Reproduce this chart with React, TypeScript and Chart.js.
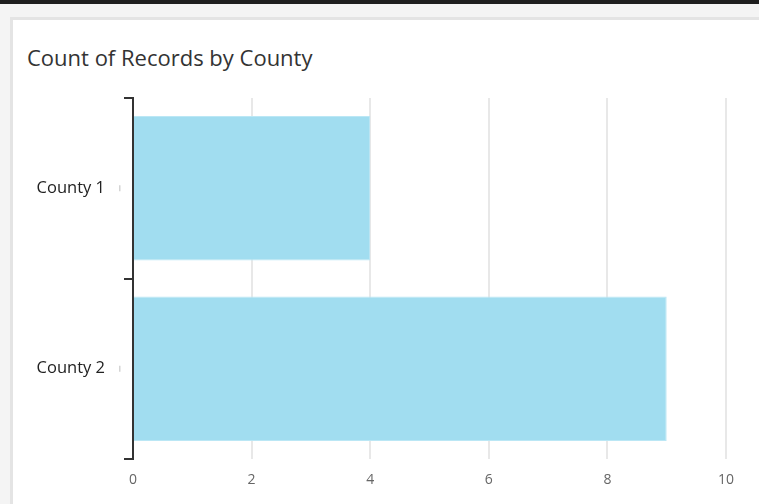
import React, { useEffect, useRef } from "react";
import { Chart, registerables } from "chart.js";

Chart.register(...registerables);

const categories = ["County 1", "County 2"];
const counts = [4, 9];
const xTicksMin = 0;
const xTicksMax = 10;
const xStep = 2;
const titleText = "Count of Records by County";

const centerMarks = {
  id: "centerMarks",
  afterDraw(chart: any) {
    const y = chart.scales.y;
    const ctx = chart.ctx;
    ctx.save();
    ctx.fillStyle = "#d4d4d4";
    categories.forEach((_, i) => {
      const py = y.getPixelForValue(i);
      ctx.fillRect(y.right - 14, py - 3, 1.5, 6);
    });
    ctx.restore();
  },
};

export default function App() {
  const ref = useRef<HTMLCanvasElement>(null);
  useEffect(() => {
    if (!ref.current) return;
    const chart = new Chart(ref.current, {
      type: "bar",
      data: {
        labels: categories,
        datasets: [
          {
            label: "Count",
            data: counts,
            backgroundColor: "#a1ddf0",
            borderColor: "#bbe7f5",
            borderWidth: 1,
            borderSkipped: "start",
            categoryPercentage: 1,
            barPercentage: 0.8,
          },
        ],
      },
      options: {
        indexAxis: "y",
        animation: false,
        responsive: false,
        layout: { padding: { top: 98, left: 0, right: 33, bottom: 0 } },
        plugins: { legend: { display: false }, tooltip: { enabled: false } },
        scales: {
          x: {
            min: xTicksMin,
            max: xTicksMax,
            ticks: {
              stepSize: xStep,
              color: "#666",
              font: { family: "'Open Sans'", size: 14 },
              padding: 13,
            },
            grid: { color: "#e8e8e8", lineWidth: 2, drawTicks: false },
            border: { display: false },
            afterFit: (s: any) => {
              s.height = 45;
            },
          },
          y: {
            ticks: {
              color: "#222",
              font: { family: "'Open Sans'", size: 16.5 },
              padding: 19,
            },
            grid: {
              offset: true,
              drawOnChartArea: false,
              color: "#333",
              lineWidth: 2,
              tickLength: 9,
            },
            border: { color: "#333", width: 2 },
            afterFit: (s: any) => {
              s.width = 133;
            },
          },
        },
      },
      plugins: [centerMarks],
    });
    return () => chart.destroy();
  }, []);

  return (
    <div style={{ position: "fixed", left: 0, top: 0, width: 759, height: 504, background: "#f4f4f4", overflow: "hidden" }}>
      <div style={{ position: "absolute", left: 0, top: 0, width: 759, height: 4, background: "#1e1e1e" }} />
      <div
        style={{
          position: "absolute",
          left: 10,
          top: 17,
          width: 780,
          height: 520,
          background: "#fff",
          border: "3px solid #e4e4e4",
          boxSizing: "border-box",
        }}
      />
      <div
        style={{
          position: "absolute",
          left: 27,
          top: 43,
          fontFamily: "'Open Sans'",
          fontSize: 22,
          lineHeight: "28px",
          color: "#333",
          whiteSpace: "nowrap",
        }}
      >
        {titleText}
      </div>
      <canvas ref={ref} width={759} height={504} style={{ position: "absolute", left: 0, top: 0 }} />
    </div>
  );
}
